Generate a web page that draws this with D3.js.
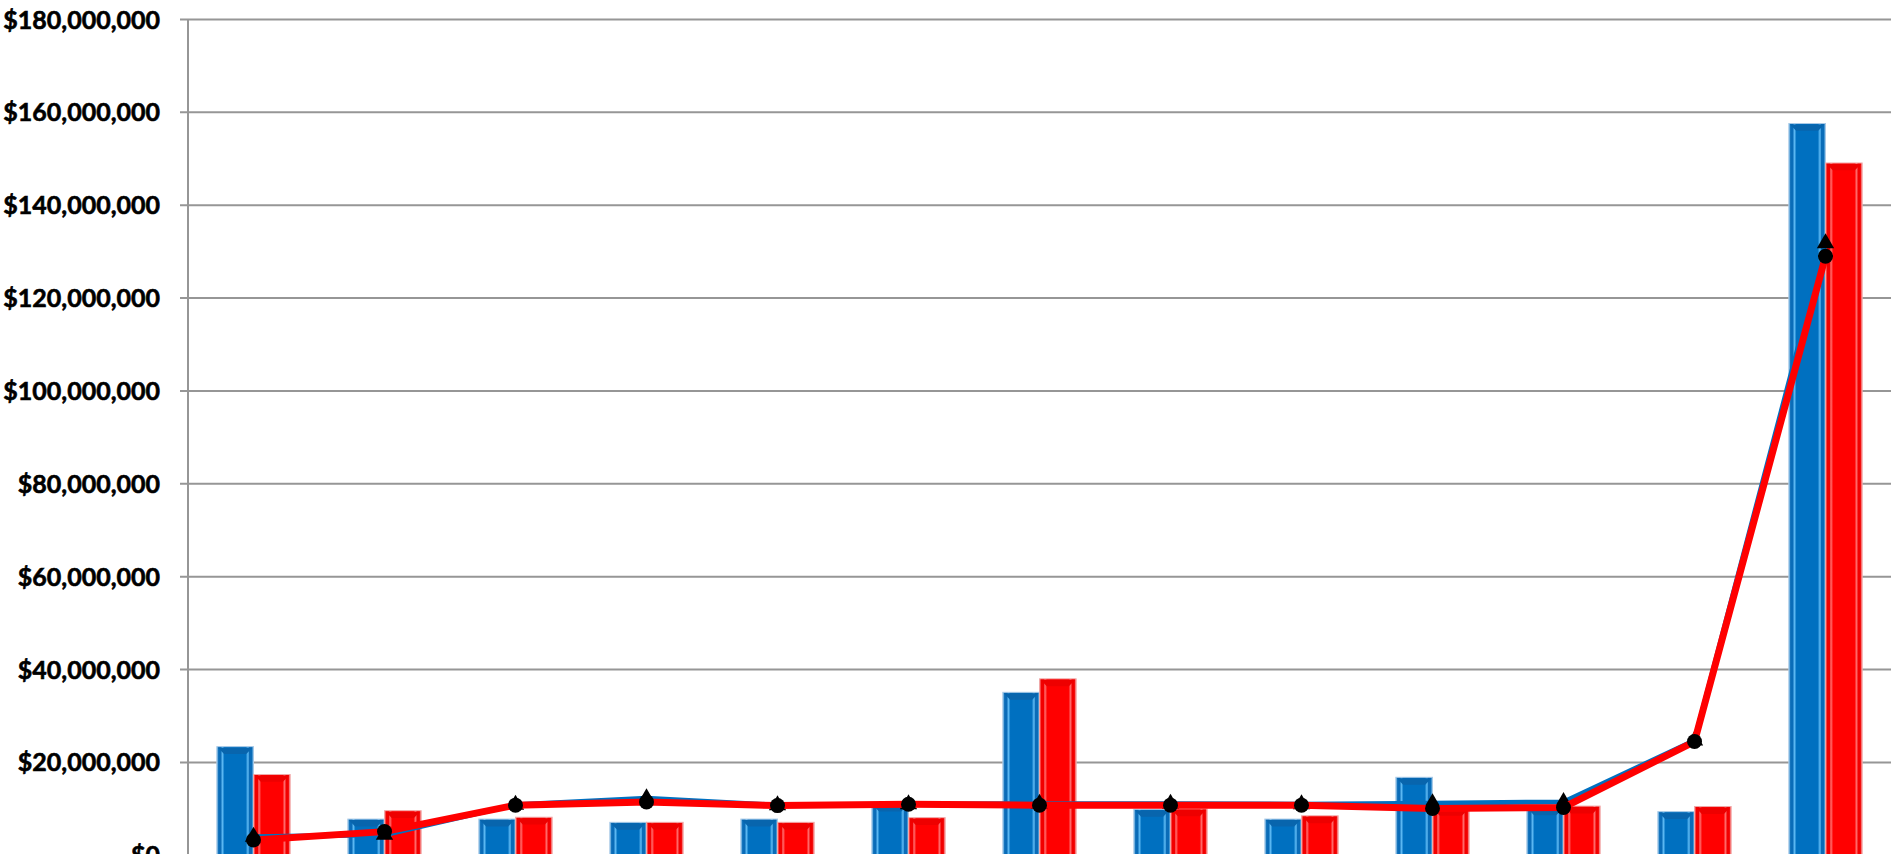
<!DOCTYPE html>
<html>
<head>
<meta charset="utf-8">
<script src="https://cdn.jsdelivr.net/npm/d3@7"></script>
<style>
  html, body { margin: 0; padding: 0; background: #fff; overflow: hidden; }
  svg { display: block; }
</style>
</head>
<body>
<svg id="chart" width="1891" height="854"></svg>
<script>
// values, in millions of dollars
const categories = ["1", "2", "3", "4", "5", "6", "7", "8", "9", "10", "11", "12", "13"];
const blueBars = [23.4, 7.8, 7.8, 7.1, 7.8, 11.0, 35.1, 9.9, 7.8, 16.8, 10.2, 9.4, 157.6];
const redBars = [17.4, 9.6, 8.2, 7.1, 7.1, 8.1, 38.0, 10.0, 8.5, 10.1, 10.6, 10.5, 149.1];
const blueLine = [4.0, 4.4, 10.9, 12.3, 10.8, 11.0, 11.1, 11.1, 11.0, 11.2, 11.5, 24.7, 131.8];
const redLine = [3.3, 5.1, 10.8, 11.5, 10.7, 11.0, 10.8, 10.8, 10.8, 10.1, 10.3, 24.5, 129.0];
const yTicks = [0, 20, 40, 60, 80, 100, 120, 140, 160, 180];

const width = 1891, height = 854;
const margin = {top: 19.5, left: 188};

const svg = d3.select("#chart");

const x = d3.scaleBand()
    .domain(categories)
    .range([margin.left, width])
    .paddingInner(0)
    .paddingOuter(0);

const y = d3.scaleLinear()
    .domain([0, 180])
    .range([855.3, margin.top]);

const barW = x.bandwidth() * 0.28;

// bevel gradients
const defs = svg.append("defs");
function bevel(id, edge, dark, light, main) {
    const g = defs.append("linearGradient").attr("id", id)
        .attr("x1", "0%").attr("x2", "100%").attr("y1", "0%").attr("y2", "0%");
    [[0, edge], [5, dark], [11, dark], [15, light], [21, main],
     [79, main], [85, light], [89, dark], [95, dark], [100, edge]]
        .forEach(([o, c]) => g.append("stop").attr("offset", o + "%").attr("stop-color", c));
}
bevel("gBlue", "#8cc8f0", "#0a6cb8", "#62bdf6", "#0070c0");
bevel("gRed", "#ff9a9a", "#f20000", "#ff7070", "#ff0000");

// gridlines
const grid = svg.append("g");
grid.selectAll("line")
    .data(yTicks)
    .join("line")
    .attr("x1", margin.left - 8)
    .attr("x2", width)
    .attr("y1", d => y(d))
    .attr("y2", d => y(d))
    .attr("stroke", "#969696")
    .attr("stroke-width", 2);

grid.append("line")
    .attr("x1", margin.left).attr("x2", margin.left)
    .attr("y1", y(180)).attr("y2", height)
    .attr("stroke", "#969696")
    .attr("stroke-width", 2);

// y labels
const fmt = d3.format(",");
svg.append("g").selectAll("text")
    .data(yTicks)
    .join("text")
    .attr("x", 160)
    .attr("y", d => y(d))
    .attr("dy", "0.36em")
    .attr("text-anchor", "end")
    .attr("font-family", "Lato, 'Liberation Sans', sans-serif")
    .attr("font-weight", "bold")
    .attr("font-size", 25)
    .attr("fill", "#000")
    .attr("stroke", "#000")
    .attr("stroke-width", 0.6)
    .text(d => "$" + fmt(d * 1000000));

// bars
function drawBars(vals, offset, gradId, topColor, stroke) {
    const g = svg.append("g");
    const bars = g.selectAll("g")
        .data(vals.map((v, i) => ({c: categories[i], v})))
        .join("g");
    const bx = d => x(d.c) + x.bandwidth() / 2 + offset;
    bars.append("rect")
        .attr("x", bx)
        .attr("y", d => y(d.v))
        .attr("width", barW)
        .attr("height", d => y(0) - y(d.v))
        .attr("fill", `url(#${gradId})`)
        .attr("stroke", stroke)
        .attr("stroke-width", 1);
    // top chevron of the bevel
    bars.append("path")
        .attr("d", d => {
            const x0 = bx(d), y0 = y(d.v), b = barW * 0.2;
            return `M${x0 + 1},${y0 + 1}L${x0 + barW - 1},${y0 + 1}L${x0 + barW - b},${y0 + b}L${x0 + b},${y0 + b}Z`;
        })
        .attr("fill", topColor);
}
drawBars(blueBars, -barW, "gBlue", "#0865ad", "#a9c9e6");
drawBars(redBars, 0, "gRed", "#ee0000", "#f0a8a8");

// lines
const cx = i => x(categories[i]) + x.bandwidth() / 2;
const line = d3.line().x((d, i) => cx(i)).y(d => y(d));

svg.append("path")
    .datum(blueLine)
    .attr("d", line)
    .attr("fill", "none")
    .attr("stroke", "#0070c0")
    .attr("stroke-width", 5)
    .attr("stroke-linejoin", "round");

svg.append("g").selectAll("path")
    .data(blueLine)
    .join("path")
    .attr("transform", (d, i) => `translate(${cx(i)},${y(d)})`)
    .attr("d", d3.symbol().type(d3.symbolTriangle).size(130))
    .attr("fill", "#000");

svg.append("path")
    .datum(redLine)
    .attr("d", line)
    .attr("fill", "none")
    .attr("stroke", "#ff0000")
    .attr("stroke-width", 7)
    .attr("stroke-linejoin", "round");

svg.append("g").selectAll("circle")
    .data(redLine)
    .join("circle")
    .attr("cx", (d, i) => cx(i))
    .attr("cy", d => y(d))
    .attr("r", 7.5)
    .attr("fill", "#000");
</script>
</body>
</html>
